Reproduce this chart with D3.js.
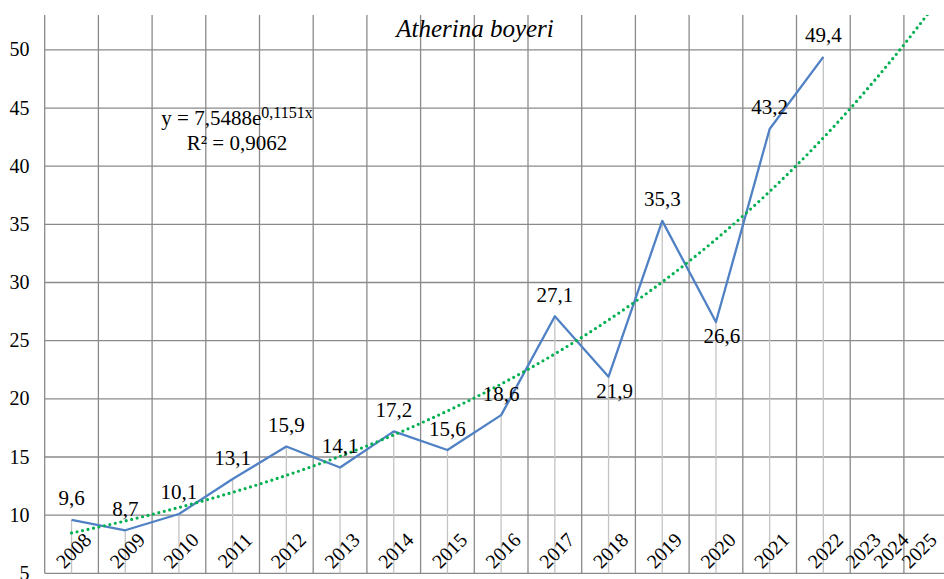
<!DOCTYPE html>
<html>
<head>
  <meta charset="UTF-8">
  <title>Atherina boyeri</title>
  <script src="https://d3js.org/d3.v7.min.js"></script>
  <style>
    body { margin: 0; background: #fff; }
    svg { display: block; }
    svg text { font-family: "Liberation Serif", "Times New Roman", serif; }
  </style>
</head>
<body>
  <svg id="chart"></svg>
  <script>
    // data
    const years = ["2008", "2009", "2010", "2011", "2012", "2013", "2014", "2015", "2016",
                   "2017", "2018", "2019", "2020", "2021", "2022", "2023", "2024", "2025"];
    const values = [9.6, 8.7, 10.1, 13.1, 15.9, 14.1, 17.2, 15.6, 18.6, 27.1, 21.9, 35.3, 26.6, 43.2, 49.4];
    const yTicks = [5, 10, 15, 20, 25, 30, 35, 40, 45, 50];
    const title = "Atherina boyeri";
    const equationMain = "y = 7,5488e";
    const equationExp = "0,1151x";
    const rSquared = "R² = 0,9062";
    // labels placed under the point instead of above
    const labelsBelow = ["2018", "2020"];

    const FONT = "Liberation Serif, Times New Roman, serif";
    const W = 944, H = 579;
    const plot = { left: 44.7, top: 15, bottom: 573.3 };
    const bandW = 53.7;
    plot.right = plot.left + bandW * years.length;

    const svg = d3.select("#chart").attr("width", W).attr("height", H);

    const x = d3.scaleBand().domain(years).range([plot.left, plot.right]).padding(0);
    const cx = d => x(d) + x.bandwidth() / 2;
    const y = d3.scaleLinear().domain([5, 53]).range([plot.bottom, plot.top]);
    const fmt = v => String(v).replace(".", ",");

    svg.append("defs").append("clipPath").attr("id", "plotClip")
      .append("rect")
      .attr("x", plot.left).attr("y", plot.top)
      .attr("width", plot.right - plot.left).attr("height", plot.bottom - plot.top);

    // horizontal grid
    svg.append("g").selectAll("line").data(yTicks).join("line")
      .attr("x1", plot.left).attr("x2", plot.right)
      .attr("y1", d => y(d)).attr("y2", d => y(d))
      .attr("stroke", "#8a8a8a").attr("stroke-width", 1.3);

    // vertical grid at category boundaries
    const bounds = years.map(d => x(d)).concat([plot.right]);
    svg.append("g").selectAll("line").data(bounds).join("line")
      .attr("x1", d => d).attr("x2", d => d)
      .attr("y1", plot.top).attr("y2", plot.bottom)
      .attr("stroke", "#8a8a8a").attr("stroke-width", 1.3);

    const points = values.map((v, i) => ({ year: years[i], value: v, i: i + 1 }));

    // drop lines
    svg.append("g").selectAll("line").data(points).join("line")
      .attr("x1", d => cx(d.year)).attr("x2", d => cx(d.year))
      .attr("y1", d => y(d.value)).attr("y2", plot.bottom)
      .attr("stroke", "#c4c4c4").attr("stroke-width", 1.3);

    // y axis labels
    svg.append("g").selectAll("text").data(yTicks).join("text")
      .attr("font-family", FONT).attr("font-size", 20)
      .attr("x", 29.5).attr("y", d => y(d))
      .attr("dy", "0.33em")
      .attr("text-anchor", "end")
      .text(d => d);

    // series
    const line = d3.line().x(d => cx(d.year)).y(d => y(d.value));
    svg.append("path").datum(points)
      .attr("d", line)
      .attr("fill", "none")
      .attr("stroke", "#4f81c4")
      .attr("stroke-width", 2.3)
      .attr("stroke-linejoin", "round");

    // exponential trend, least squares on ln(y)
    const mx = d3.mean(points, d => d.i);
    const my = d3.mean(points, d => Math.log(d.value));
    const b = d3.sum(points, d => (d.i - mx) * (Math.log(d.value) - my)) /
              d3.sum(points, d => (d.i - mx) * (d.i - mx));
    const a = Math.exp(my - b * mx);
    const t = d3.scaleLinear().domain([1, years.length]).range([cx(years[0]), cx(years[years.length - 1])]);
    const trendPts = d3.range(1, years.length + 0.001, 0.1);
    svg.append("path").datum(trendPts)
      .attr("clip-path", "url(#plotClip)")
      .attr("d", d3.line().x(d => t(d)).y(d => y(a * Math.exp(b * d))))
      .attr("fill", "none")
      .attr("stroke", "#00b050")
      .attr("stroke-width", 3.2)
      .attr("stroke-linecap", "round")
      .attr("stroke-dasharray", "0 5.6");

    // data labels
    svg.append("g").selectAll("text").data(points).join("text")
      .attr("font-family", FONT).attr("font-size", 21)
      .attr("x", d => cx(d.year) + (labelsBelow.includes(d.year) ? 6 : 0))
      .attr("y", d => y(d.value) + (labelsBelow.includes(d.year) ? 21 : -14.5))
      .attr("text-anchor", "middle")
      .text(d => fmt(d.value));

    // rotated x labels, squeezed toward the right edge of the picture
    const lastX = W - 6, gap = 28;
    svg.append("g").selectAll("text").data(years).join("text")
      .attr("font-family", FONT).attr("font-size", 20)
      .attr("transform", (d, i) => {
        const px = Math.min(cx(d) + 21, lastX - (years.length - 1 - i) * gap);
        return `translate(${px},${plot.bottom - 32}) rotate(-45)`;
      })
      .attr("text-anchor", "end")
      .text(d => d);

    // title
    svg.append("text")
      .attr("x", 475).attr("y", 36.7)
      .attr("text-anchor", "middle")
      .attr("font-family", FONT)
      .attr("font-style", "italic")
      .attr("font-size", 25)
      .text(title);

    // trend equation
    const eq = svg.append("text")
      .attr("x", 237).attr("y", 125)
      .attr("text-anchor", "middle")
      .attr("font-family", FONT)
      .attr("font-size", 21);
    eq.append("tspan").text(equationMain);
    eq.append("tspan").attr("dy", -7).attr("font-size", 16).text(equationExp);
    svg.append("text")
      .attr("x", 237).attr("y", 150)
      .attr("text-anchor", "middle")
      .attr("font-family", FONT)
      .attr("font-size", 21)
      .text(rSquared);
  </script>
</body>
</html>
